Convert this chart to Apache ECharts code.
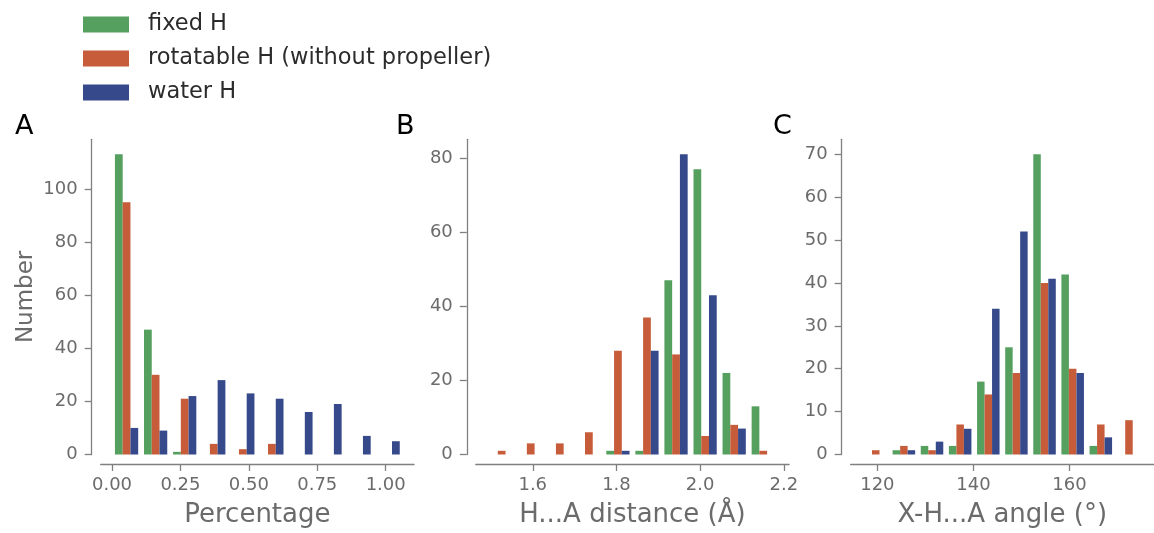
<!DOCTYPE html>
<html><head><meta charset="utf-8">
<script src="https://cdn.jsdelivr.net/npm/echarts@6/dist/echarts.min.js"></script>
<style>html,body{margin:0;padding:0;background:#fff}#c{width:1154px;height:533px}</style>
</head><body><div id="c"></div>
<script>
const seriesNames = ['fixed H', 'rotatable H (without propeller)', 'water H'];
const colors = ['#55A05F', '#C65C3A', '#36498A'];

// Panel A: Percentage
const edgesA = [0, 0.1062, 0.2124, 0.3186, 0.4248, 0.531, 0.6372, 0.7434, 0.8496, 0.9558, 1.062];
const fixedA = [113, 47, 1, 0, 0, 0, 0, 0, 0, 0];
const rotA   = [95, 30, 21, 4, 2, 4, 0, 0, 0, 0];
const waterA = [10, 9, 22, 28, 23, 21, 16, 19, 7, 5];
const xTicksA = [0, 0.25, 0.5, 0.75, 1.0];
const yTicksA = [0, 20, 40, 60, 80, 100];

// Panel B: H...A distance
const edgesB = [1.491, 1.5604, 1.6299, 1.6993, 1.7688, 1.8382, 1.9076, 1.9771, 2.0465, 2.116, 2.1854];
const fixedB = [0, 0, 0, 0, 1, 1, 47, 77, 22, 13];
const rotB   = [1, 3, 3, 6, 28, 37, 27, 5, 8, 1];
const waterB = [0, 0, 0, 0, 1, 28, 81, 43, 7, 0];
const xTicksB = [1.6, 1.8, 2.0, 2.2];
const yTicksB = [0, 20, 40, 60, 80];

// Panel C: X-H...A angle
const edgesC = [116.73, 122.59, 128.45, 134.31, 140.17, 146.03, 151.88, 157.74, 163.60, 169.46, 175.32];
const fixedC = [0, 1, 2, 2, 17, 25, 70, 42, 2, 0];
const rotC   = [1, 2, 1, 7, 14, 19, 40, 20, 7, 8];
const waterC = [0, 1, 3, 6, 34, 52, 41, 19, 4, 0];
const xTicksC = [120, 140, 160];
const yTicksC = [0, 10, 20, 30, 40, 50, 60, 70];

const panels = [
  {edges: edgesA, vals: [fixedA, rotA, waterA], xt: xTicksA, yt: yTicksA, dec: 2, xname: 'Percentage', yname: 'Number', left: 100.7},
  {edges: edgesB, vals: [fixedB, rotB, waterB], xt: xTicksB, yt: yTicksB, dec: 1, xname: 'H...A distance (Å)', yname: '', left: 475.8},
  {edges: edgesC, vals: [fixedC, rotC, waterC], xt: xTicksC, yt: yTicksC, dec: 0, xname: 'X-H...A angle (°)', yname: '', left: 850.7}
];

const FONT = 'DejaVu Sans';
const GRAY = '#6b6b6b';
const LINE = '#808080';

const grids = [], xAxes = [], yAxes = [], series = [];

function renderBar(params, api) {
  const v = api.value(2);
  if (!v) return;
  const p0 = api.coord([api.value(0), v]);
  const p1 = api.coord([api.value(1), 0]);
  return {type: 'rect', shape: {x: p0[0], y: p0[1], width: p1[0] - p0[0], height: p1[1] - p0[1]},
          style: {fill: api.visual('color')}};
}

panels.forEach((p, i) => {
  const e = p.edges, n = e.length - 1;
  const w = (e[n] - e[0]) / n;
  const lo = e[0] + 0.1 * w, hi = e[n] - 0.1 * w, span = hi - lo;
  let ymax = 0; p.vals.forEach(a => a.forEach(v => { if (v > ymax) ymax = v; }));
  grids.push({left: p.left, top: 139.3, width: 313.3, height: 317.7, containLabel: false});
  xAxes.push({
    type: 'value', gridIndex: i, min: lo - 0.05 * span, max: hi + 0.05 * span, offset: 9.5,
    splitLine: {show: false},
    axisLine: {show: true, onZero: false, lineStyle: {color: LINE, width: 1.3}},
    axisTick: {show: true, length: 7, lineStyle: {color: LINE, width: 1.3}, customValues: p.xt},
    axisLabel: {customValues: p.xt, color: GRAY, fontSize: 18, fontFamily: FONT, margin: 12,
                formatter: v => Number(v).toFixed(p.dec)},
    name: p.xname, nameLocation: 'middle', nameGap: 38,
    nameTextStyle: {color: GRAY, fontSize: 26, fontFamily: FONT}
  });
  yAxes.push({
    type: 'value', gridIndex: i, min: 0, max: ymax * 1.05, offset: 9,
    splitLine: {show: false},
    axisLine: {show: true, onZero: false, lineStyle: {color: LINE, width: 1.3}},
    axisTick: {show: true, length: 7, lineStyle: {color: LINE, width: 1.3}, customValues: p.yt},
    axisLabel: {customValues: p.yt, color: GRAY, fontSize: 18, fontFamily: FONT, margin: 14},
    name: p.yname, nameLocation: 'middle', nameGap: 54, nameRotate: 90,
    nameTextStyle: {color: GRAY, fontSize: 23, fontFamily: FONT}
  });
  p.vals.forEach((arr, k) => {
    const data = arr.map((v, b) => {
      const bw = e[b + 1] - e[b];
      const x0 = e[b] + bw * (0.1 + k * 0.8 / 3);
      return [x0, x0 + bw * 0.8 / 3, v];
    });
    series.push({
      type: 'custom', name: seriesNames[k], xAxisIndex: i, yAxisIndex: i,
      itemStyle: {color: colors[k]}, renderItem: renderBar,
      encode: {x: [0, 1], y: 2}, data: data, silent: true
    });
  });
});

const chart = echarts.init(document.getElementById('c'), null, {renderer: 'canvas'});
chart.setOption({
  backgroundColor: '#fff',
  animation: false,
  title: [
    {text: 'A', left: 15, top: 113, padding: 0, textStyle: {fontSize: 27, fontWeight: 'normal', color: '#000', fontFamily: FONT}},
    {text: 'B', left: 396, top: 113, padding: 0, textStyle: {fontSize: 27, fontWeight: 'normal', color: '#000', fontFamily: FONT}},
    {text: 'C', left: 773, top: 113, padding: 0, textStyle: {fontSize: 27, fontWeight: 'normal', color: '#000', fontFamily: FONT}}
  ],
  legend: {
    data: seriesNames, orient: 'vertical', left: 83, top: 13, padding: 0,
    itemWidth: 46, itemHeight: 16, itemGap: 11, icon: 'rect', selectedMode: false,
    textStyle: {fontSize: 22.5, color: '#2b2b2b', fontFamily: FONT, padding: [0, 0, 0, 14]}
  },
  grid: grids, xAxis: xAxes, yAxis: yAxes, series: series
});
</script></body></html>
